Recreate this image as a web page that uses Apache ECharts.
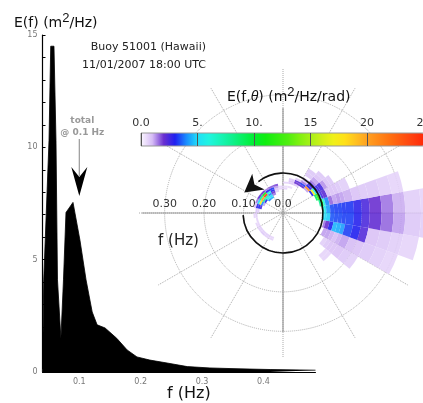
<!DOCTYPE html>
<html>
<head>
<meta charset="utf-8">
<script src="https://cdn.jsdelivr.net/npm/echarts@6/dist/echarts.min.js"></script>
<style>
  html, body { margin: 0; padding: 0; background: #fff; }
  #chart { width: 423px; height: 403px; }
</style>
</head>
<body>
<div id="chart"></div>
<script>
// frequency spectrum E(f), buoy 51001
const specFreq   = [0.040, 0.042, 0.0506, 0.0534, 0.0587, 0.062, 0.0644, 0.070, 0.0742, 0.0783, 0.0897, 0.101, 0.111, 0.121, 0.129, 0.142, 0.161, 0.178, 0.194, 0.215, 0.243, 0.276, 0.313, 0.362, 0.411, 0.485];
const specEnergy = [0,     4.1,   10.3,   14.5,   14.5,   10.3,  4.1,    1.5,   4.1,    7.1,    7.55,   5.87,  4.1,   2.67,  2.1,   1.96,  1.5,   0.98,  0.67,  0.53,  0.4,   0.24,  0.18,  0.14,  0.11,  0.08];
const xTickLabels = [0.1, 0.2, 0.3, 0.4];

// directional spectrum E(f,theta), 10 deg bins, direction anticlockwise from east
const DIR_BIN = 10;
const seaDirs = [-45, -35, -25, -15, -5, 5, 15, 25, 35, 45, 55, 65, 75, 85];
const seaFreqEdges = [0.075, 0.08, 0.085, 0.09, 0.095, 0.1, 0.105, 0.11, 0.12, 0.13, 0.14, 0.15, 0.16, 0.18, 0.2, 0.22, 0.25, 0.28, 0.31, 0.35, 0.4];
const seaEnergy = [
  [0,   0,   0,   0,   0,   0,   0,   0,   0,   0,   0,   0.8, 0.8, 0.6],
  [0,   0,   0,   0,   0,   0,   0,   0,   0,   1.2, 2.2, 2.0, 0.9, 0],
  [0,   0,   0,   0,   0,   0,   0,   0,   3,   21,  3.2, 2.2, 0.8, 0],
  [0,   0,   0,   0,   0,   0,   0,   9,   17,  3,   1.5, 0.8, 0,   0],
  [0,   0,   0,   0,   0,   0,   8,   12,  6,   2.6, 1.0, 0,   0,   0],
  [0,   0,   0,   0,   5,   6,   11,  5,   3,   2.4, 0.9, 0,   0,   0],
  [0,   0,   0,   1.5, 5,   5.5, 6,   2.5, 2.6, 1.5, 0,   0,   0,   0],
  [0,   0,   1.2, 2,   4.8, 4.2, 4,   2.2, 2.5, 1.2, 0.8, 0,   0,   0],
  [0,   0.7, 1.2, 3,   3.5, 3.4, 1.6, 1.0, 1.3, 0.9, 0.8, 0,   0,   0],
  [0,   0.8, 1.1, 4.5, 3.4, 3.3, 1.2, 0.9, 0.9, 0.8, 0,   0,   0,   0],
  [0.6, 0.9, 1.0, 4.4, 3.4, 3.3, 1.3, 0.9, 0.8, 0,   0,   0,   0,   0],
  [0.6, 0.9, 1.1, 4.2, 3.3, 3.2, 1.2, 0.8, 0,   0,   0,   0,   0,   0],
  [0,   0.9, 1.2, 3.3, 3.3, 3.2, 1.1, 0.7, 0,   0,   0,   0,   0,   0],
  [0,   0.8, 1.0, 3.0, 2.9, 2.8, 0.9, 0,   0,   0,   0,   0,   0,   0],
  [0,   0.7, 0.9, 2.3, 2.4, 2.4, 0.8, 0,   0,   0,   0,   0,   0,   0],
  [0,   0,   0.8, 0.9, 2.1, 2.0, 0.8, 0,   0,   0,   0,   0,   0,   0],
  [0,   0,   0.7, 0.8, 1.6, 1.5, 0.7, 0,   0,   0,   0,   0,   0,   0],
  [0,   0,   0.6, 0.7, 1.2, 1.1, 0.6, 0,   0,   0,   0,   0,   0,   0],
  [0,   0,   0,   0.6, 0.8, 0.7, 0,   0,   0,   0,   0,   0,   0,   0],
  [0,   0,   0,   0,   0.7, 0.6, 0,   0,   0,   0,   0,   0,   0,   0]
];
const swellDirs = [75, 85, 95, 105, 115, 125, 135, 145, 155, 165, 175, 185, 195, 205, 215, 225, 235, 245];
const swellFreqEdges = [0.045, 0.05, 0.055, 0.06, 0.065, 0.07, 0.075];
const swellEnergy = [
  [0,   0,   0,   0,   0,   4.5, 4,   0,   0,   0,   0,   0,   0,   0,   0,   0,   0,   0],
  [0,   0,   0,   0,   1.5, 5,   5.5, 3,   1.2, 0,   0,   0,   0,   0,   0,   0,   0,   0],
  [0,   0,   0,   0.7, 2,   4,   7,   8,   4,   2.5, 0,   0,   0,   0,   0,   0,   0,   0],
  [0,   0.6, 0.6, 0.8, 3,   6,   24,  20,  17,  3,   0.7, 0,   0,   0,   0,   0,   0,   0],
  [0.5, 0.5, 0.6, 1.2, 3.2, 3,   11,  8,   5,   2.8, 0.8, 0.7, 0.6, 0.6, 0.7, 0.7, 0.7, 0.6],
  [0,   0,   0,   1.8, 1.7, 1.5, 2,   2.2, 1.5, 0.9, 0,   0.6, 0,   0.6, 0.7, 0.8, 0.7, 0.6]
];

const colorbarLabels = {0: '0.0', 5: '5.', 10: '10.', 15: '15', 20: '20', 25: '25'};
const cbColors = ['#fbf7ff', '#d6bcf5', '#6a30d0', '#2020f0', '#1a8cff', '#20def8', '#20f4e0', '#18f4b8',
  '#10f090', '#08f060', '#00ee30', '#10ee10', '#30ee10', '#50ee10', '#80f010', '#a8f018', '#d0f018',
  '#f0f018', '#ffe018', '#ffc020', '#ffa020', '#ff8818', '#ff7010', '#ff5810', '#ff4010', '#ff2808'];

// layout: circles out to 0.3 Hz, radial spokes a little further
const PCX = 283, PCY = 213, PX_PER_HZ = 394.5;
const RCIRC = 0.3, RSPOKE = 0.365;

function toAngle(deg) { return ((deg - 180) % 360 + 360) % 360; }
function buildCells(dirs, edges, rows) {
  const out = [];
  rows.forEach(function (row, i) {
    row.forEach(function (e, j) {
      if (e > 0) {
        const a0 = toAngle(dirs[j] - DIR_BIN / 2);
        out.push([edges[i], a0, edges[i + 1], a0 + DIR_BIN, e]);
      }
    });
  });
  return out;
}
const cells = buildCells(seaDirs, seaFreqEdges, seaEnergy).concat(buildCells(swellDirs, swellFreqEdges, swellEnergy));

const minorTicks = [];
for (let i = 4; i <= 48; i++) minorTicks.push(i / 100);

const chart = echarts.init(document.getElementById('chart'));

const option = {
  animation: false,
  textStyle: { fontFamily: 'DejaVu Sans' },
  grid: [
    { left: 42.5, top: 35, width: 273, height: 337, containLabel: false, outerBoundsMode: 'none' },
    { left: 141, top: 133, width: 282.5, height: 13, show: true, borderColor: '#999', borderWidth: 1,
      backgroundColor: 'transparent', z: 10, containLabel: false, outerBoundsMode: 'none' }
  ],
  xAxis: [
    { type: 'value', gridIndex: 0, min: 0.04, max: 0.485,
      axisLine: { lineStyle: { color: '#000', width: 1 } },
      axisTick: { inside: true, length: 3, lineStyle: { color: '#fff', width: 1.5 }, customValues: minorTicks },
      axisLabel: { customValues: xTickLabels, fontSize: 8, color: '#777', margin: 6 },
      splitLine: { show: false } },
    { type: 'value', gridIndex: 1, min: 0, max: 25, interval: 5, position: 'top', z: 10,
      axisLine: { show: false }, axisTick: { show: false },
      axisLabel: { fontSize: 11, color: '#333', margin: 4, formatter: function (v) { return colorbarLabels[v] || ''; } },
      splitLine: { show: true, lineStyle: { color: '#555', width: 1 } } }
  ],
  yAxis: [
    { type: 'value', gridIndex: 0, min: 0, max: 15, interval: 5,
      axisLine: { show: true, lineStyle: { color: '#000', width: 1.2 } },
      axisTick: { show: true, inside: true, length: 3, lineStyle: { color: '#000' } },
      minorTick: { show: true, splitNumber: 5, length: 3, lineStyle: { color: '#000' } },
      axisLabel: { fontSize: 8, color: '#777', margin: 5 },
      splitLine: { show: false } },
    { type: 'value', gridIndex: 1, show: false }
  ],
  polar: [
    { center: [PCX, PCY], radius: RCIRC * PX_PER_HZ },
    { center: [PCX, PCY], radius: RSPOKE * PX_PER_HZ }
  ],
  angleAxis: [
    { polarIndex: 0, type: 'value', min: 0, max: 360, startAngle: 180, clockwise: false,
      axisLine: { show: false }, axisTick: { show: false }, axisLabel: { show: false }, splitLine: { show: false } },
    { polarIndex: 1, type: 'value', min: 0, max: 360, interval: 30, startAngle: 180, clockwise: false,
      axisLine: { show: false }, axisTick: { show: false }, axisLabel: { show: false },
      splitLine: { show: true, lineStyle: { color: '#aaa', type: 'dotted', width: 1 } } }
  ],
  radiusAxis: [
    { polarIndex: 0, type: 'value', min: 0, max: RCIRC, interval: 0.1,
      axisLine: { show: false }, axisTick: { show: false },
      axisLabel: { fontSize: 11, color: '#333', margin: -3, align: 'center', verticalAlign: 'bottom',
        formatter: function (v) { return v === 0 ? '0.0' : v.toFixed(2); } },
      splitLine: { show: true, lineStyle: { color: '#aaa', type: 'dotted', width: 1 } } },
    { polarIndex: 1, type: 'value', min: 0, max: RSPOKE,
      axisLine: { show: false }, axisTick: { show: false }, axisLabel: { show: false }, splitLine: { show: false } }
  ],
  visualMap: {
    type: 'continuous', seriesIndex: 1, dimension: 4, min: 0, max: 25,
    orient: 'horizontal', left: 141, top: 133, itemWidth: 13, itemHeight: 283,
    calculable: false, padding: 0, hoverLink: false,
    inRange: { color: cbColors }
  },
  series: [
    { type: 'line', xAxisIndex: 0, yAxisIndex: 0, showSymbol: false, silent: true,
      data: specFreq.map(function (f, i) { return [f, specEnergy[i]]; }),
      lineStyle: { color: '#000', width: 0.8 },
      areaStyle: { color: '#000', opacity: 1 } },
    { type: 'custom', coordinateSystem: 'polar', polarIndex: 0, silent: true,
      dimensions: ['f0', 'a0', 'f1', 'a1', 'E'],
      encode: { radius: 0, angle: 1 },
      data: cells,
      renderItem: function (params, api) {
        const cx = params.coordSys.cx, cy = params.coordSys.cy;
        const pIn = api.coord([api.value(0), api.value(1)]);
        const pOut = api.coord([api.value(2), api.value(1)]);
        const pEnd = api.coord([api.value(2), api.value(3)]);
        const r0 = Math.hypot(pIn[0] - cx, pIn[1] - cy);
        const r = Math.hypot(pOut[0] - cx, pOut[1] - cy);
        const s0 = Math.atan2(pOut[1] - cy, pOut[0] - cx);
        const s1 = Math.atan2(pEnd[1] - cy, pEnd[0] - cx);
        let start = s1, end = s0;
        if (end < start) end += Math.PI * 2;
        return {
          type: 'sector',
          shape: { cx: cx, cy: cy, r0: r0, r: r, startAngle: start, endAngle: end, clockwise: true },
          style: { fill: api.visual('color'), opacity: 0.9 }
        };
      } }
  ]
};
chart.setOption(option);

// annotations
const xAt01 = chart.convertToPixel({ xAxisIndex: 0 }, 0.1);
const rAt01 = 0.1 * PX_PER_HZ + 0.5;
const a0 = 183 * Math.PI / 180, aEnd = 128 * Math.PI / 180;
const ex = PCX + rAt01 * Math.cos(aEnd), ey = PCY - rAt01 * Math.sin(aEnd);
const dx = -Math.sin(aEnd), dy = -Math.cos(aEnd); // tangent, screen coords
const px = -dy, py = dx;
const headLen = 18, headW = 10;
const tip = [ex + dx * headLen, ey + dy * headLen];
const headPts = [tip, [ex + px * headW, ey + py * headW], [ex + dx * 5, ey + dy * 5], [ex - px * headW, ey - py * headW]];

chart.setOption({
  graphic: [
    { type: 'text', x: 14, y: 12, z: 5, style: { text: 'E(f) (m{s|2}/Hz)', font: '14px DejaVu Sans', fill: '#111',
      rich: { s: { fontSize: 13, padding: [0, 0, 9, 0] } } } },
    { type: 'text', x: 206, y: 47, z: 5, style: { text: 'Buoy 51001 (Hawaii)', font: '11px DejaVu Sans', fill: '#222', align: 'right', verticalAlign: 'middle' } },
    { type: 'text', x: 206, y: 65, z: 5, style: { text: '11/01/2007 18:00 UTC', font: '11px DejaVu Sans', fill: '#222', align: 'right', verticalAlign: 'middle' } },
    { type: 'text', x: xAt01 + 3, y: 121, z: 5, style: { text: 'total', font: 'bold 9px DejaVu Sans', fill: '#999', align: 'center', verticalAlign: 'middle' } },
    { type: 'text', x: xAt01 + 3, y: 133, z: 5, style: { text: '@ 0.1 Hz', font: 'bold 9px DejaVu Sans', fill: '#999', align: 'center', verticalAlign: 'middle' } },
    { type: 'line', z: 5, shape: { x1: xAt01, y1: 139, x2: xAt01, y2: 176 }, style: { stroke: '#999', lineWidth: 1.2 } },
    { type: 'polygon', z: 5, shape: { points: [[xAt01 - 8, 167], [xAt01, 196], [xAt01 + 8, 167], [xAt01, 177]] }, style: { fill: '#000' } },
    { type: 'text', x: 167, y: 394, z: 5, style: { text: 'f (Hz)', font: '16px DejaVu Sans', fill: '#111', verticalAlign: 'middle' } },

    { type: 'line', z: 1, shape: { x1: PCX - 141, y1: PCY, x2: 423, y2: PCY }, style: { stroke: '#999', lineWidth: 1.2 } },
    { type: 'line', z: 1, shape: { x1: PCX, y1: 108, x2: PCX, y2: 332 }, style: { stroke: '#999', lineWidth: 1.2 } },
    { type: 'text', x: 227, y: 86, z: 5, style: { text: 'E(f,{i|θ}) (m{s|2}/Hz/rad)', font: '14px DejaVu Sans', fill: '#111',
      rich: { s: { fontSize: 13, padding: [0, 0, 9, 0] }, i: { fontStyle: 'italic', fontSize: 14 } } } },
    { type: 'text', x: 158, y: 241, z: 5, style: { text: 'f (Hz)', font: '15px DejaVu Sans', fill: '#222', verticalAlign: 'middle' } },
    { type: 'arc', z: 20, shape: { cx: PCX, cy: PCY, r: rAt01, startAngle: -a0, endAngle: -aEnd - Math.PI * 2, clockwise: false },
      style: { stroke: '#111', lineWidth: 1.6, fill: null } },
    { type: 'polygon', z: 21, shape: { points: headPts }, style: { fill: '#111' } }
  ]
});
</script>
</body>
</html>
